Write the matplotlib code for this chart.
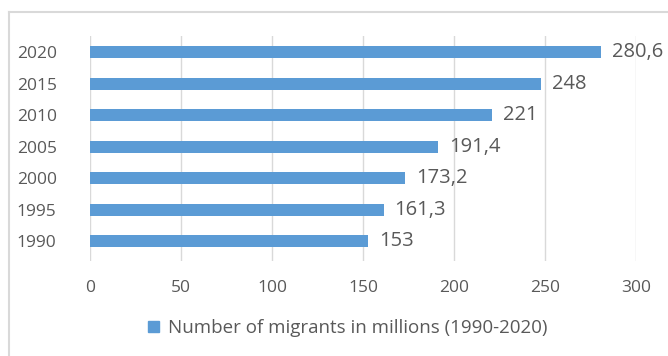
import matplotlib.pyplot as plt
from matplotlib.patches import Patch
from matplotlib.lines import Line2D

years = ["1990", "1995", "2000", "2005", "2010", "2015", "2020"]
migrants = [153, 161.3, 173.2, 191.4, 221, 248, 280.6]
xticks = [0, 50, 100, 150, 200, 250, 300]

bar_color = "#5B9BD5"
text_color = "#595959"
grid_color = "#D9D9D9"

plt.rcParams["font.family"] = ["Open Sans", "DejaVu Sans"]

fig = plt.figure(figsize=(6.68, 3.56), dpi=100)
ax = fig.add_axes([90 / 668, 1 - 261 / 356, (636 - 90) / 668, (261 - 36) / 356])

pos = list(range(len(years)))
ax.barh(pos, migrants, height=0.38, color=bar_color, zorder=3)

# значения справа от столбцов, с запятой как в оригинале
for p, v in zip(pos, migrants):
    lab = ("%g" % v).replace(".", ",")
    ax.text(v + 6, p, lab, va="center", ha="left", fontsize=14.5, color=text_color)

ax.set_xlim(0, 300)
ax.set_ylim(-0.63, 6.51)
ax.set_xticks(xticks)
ax.set_yticks(pos)
ax.set_yticklabels(years)
ax.tick_params(axis="both", length=0, labelsize=12.5, colors=text_color)
ax.tick_params(axis="x", pad=14)
ax.tick_params(axis="y", pad=24)
ax.grid(axis="x", color=grid_color, linewidth=1, zorder=0)
for s in ax.spines.values():
    s.set_visible(False)

# легенда внизу
handle = Patch(color=bar_color)
fig.legend([handle], ["Number of migrants in millions (1990-2020)"],
           loc="center", bbox_to_anchor=(348 / 668, 1 - 328 / 356),
           frameon=False, fontsize=13.5, labelcolor=text_color,
           handlelength=0.55, handleheight=0.55, handletextpad=0.5)

# рамка диаграммы (видны только левая и верхняя стороны)
fig.add_artist(Line2D([9 / 668, 9 / 668], [0, 1 - 12 / 356], color="#D9D9D9", lw=1.5))
fig.add_artist(Line2D([9 / 668, 1], [1 - 12 / 356, 1 - 12 / 356], color="#D9D9D9", lw=1.5))

fig.savefig("out.png", dpi=100, facecolor="white")
